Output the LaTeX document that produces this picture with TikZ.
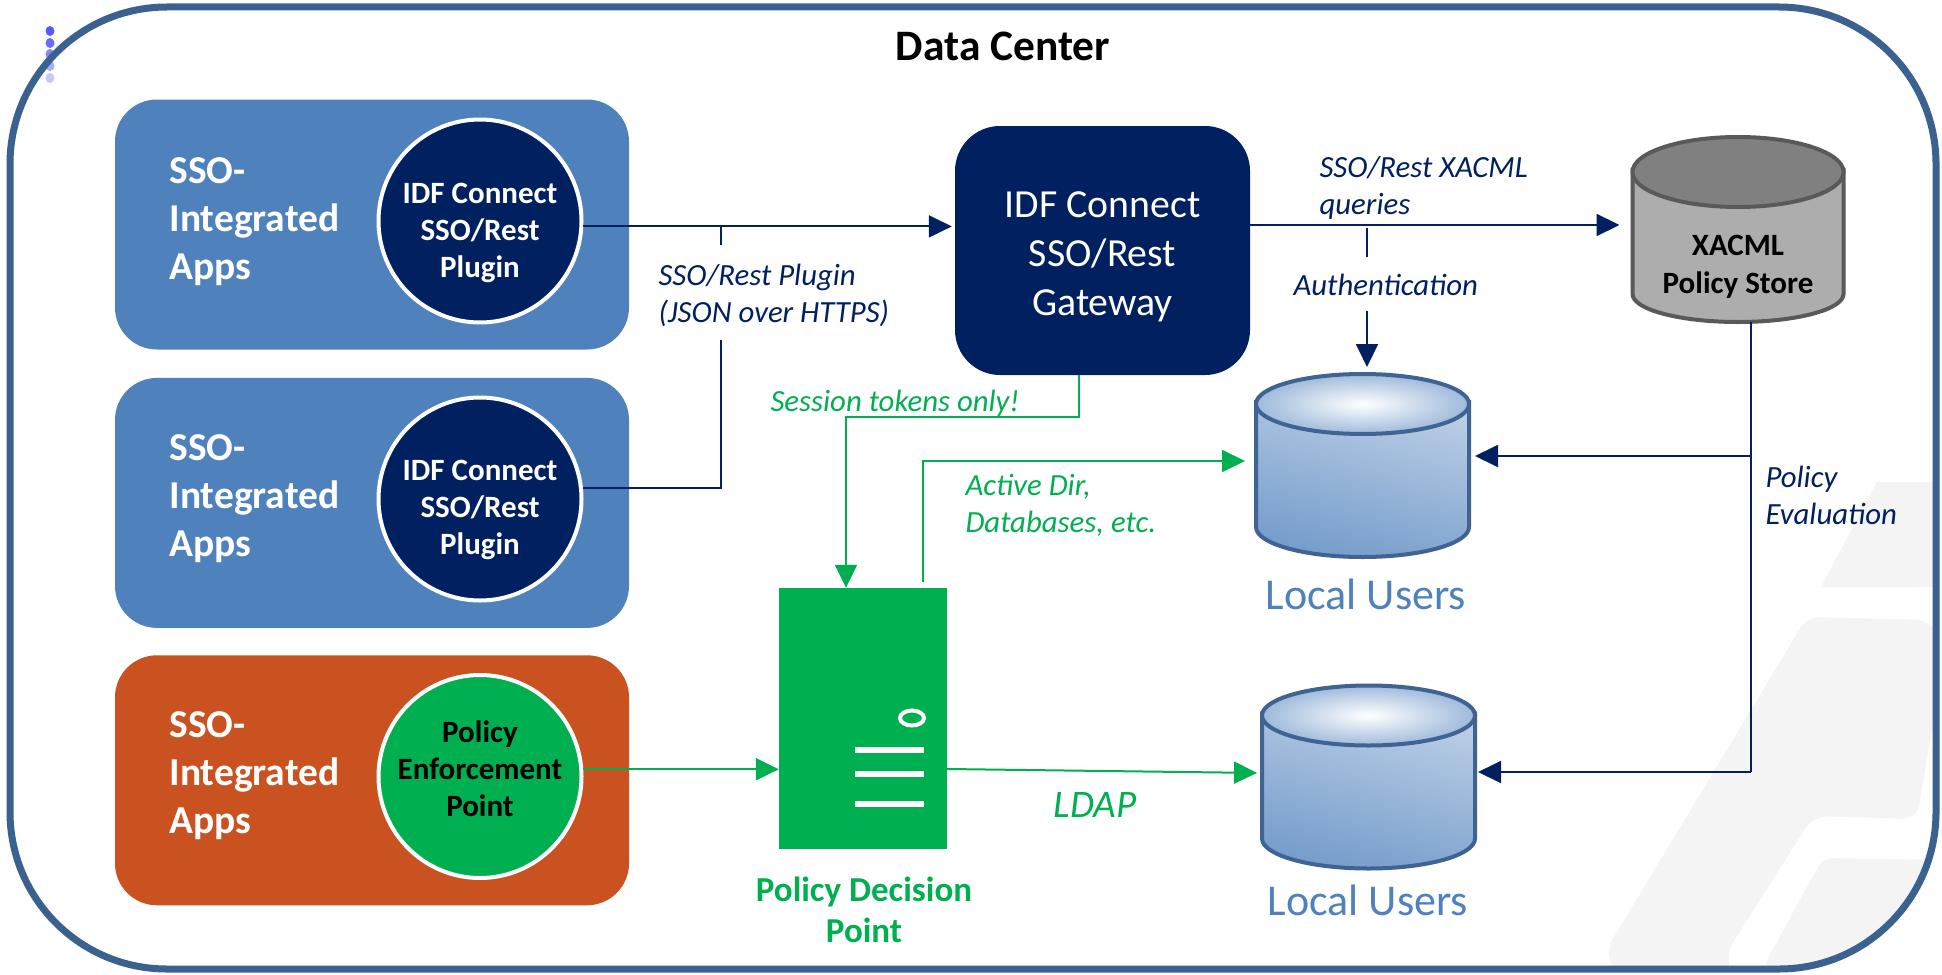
\documentclass[tikz,border=0pt]{standalone}
\usepackage{fontspec}
\setmainfont{Carlito}
\usepackage{xcolor}
\usepackage{tikz}
\usetikzlibrary{shapes.geometric, arrows.meta, positioning, calc}
\definecolor{navy}{HTML}{002060}
\definecolor{appblue}{HTML}{4F81BD}
\definecolor{apporange}{HTML}{CA5220}
\definecolor{pdpgreen}{HTML}{00B050}
\definecolor{framecol}{HTML}{3B6190}
\definecolor{wmark}{HTML}{F4F4F4}
\definecolor{usrline}{HTML}{3F6392}
\tikzstyle{appbox} = [rectangle, rounded corners=42pt, minimum width=514pt, minimum height=250pt, inner sep=0pt]
\tikzstyle{plugin} = [circle, draw=white, line width=4pt, minimum size=203pt, inner sep=0pt]
\tikzstyle{apptext} = [anchor=west, align=left, text=white, font=\fontsize{39.5}{48}\selectfont\bfseries]
\tikzstyle{plugtext} = [align=center, font=\fontsize{31}{37}\selectfont\bfseries]
\tikzstyle{navylabel} = [anchor=west, align=left, text=navy, font=\fontsize{30.8}{37}\selectfont\itshape]
\tikzstyle{greenlabel} = [anchor=west, align=left, text=pdpgreen, font=\fontsize{30.8}{37}\selectfont\itshape]
\tikzstyle{store} = [rectangle, inner sep=0pt, outer sep=0pt]
\tikzstyle{usrbody} = [draw=usrline, line width=4pt, top color=appblue!40!white, bottom color=appblue!78!white, shading angle=-15]
\tikzstyle{usrtop} = [ellipse, draw=usrline, inner color=white, outer color=appblue!55!white, line width=4pt, minimum width=213pt, minimum height=60pt, inner sep=0pt, anchor=north]
\tikzstyle{usertext} = [text=appblue, font=\fontsize{44}{46}\selectfont]
\tikzstyle{navyline} = [draw=navy, line width=2pt]
\tikzstyle{navyarrow} = [navyline, -{Triangle[length=23pt,width=22pt]}]
\tikzstyle{greenline} = [draw=pdpgreen, line width=2pt]
\tikzstyle{greenarrow} = [greenline, -{Triangle[length=23pt,width=22pt]}]
\begin{document}
\begin{tikzpicture}[x=1pt, y=-1pt]
	\useasboundingbox (0,0) rectangle (1942,974);
	\fill[white] (0,0) rectangle (1942,974);

	% background marks
	\begin{scope}
		\clip[rounded corners=157pt] (10,7) rectangle (1936,969);
		\fill[wmark] (1877,482) -- (1942,482) -- (1942,587) -- (1821,587) -- cycle;
		\fill[wmark, rounded corners=14pt] (1807,617) -- (1930,620) -- (1945,650) -- (1917,819) -- (1813,816) -- (1725,955) -- (1735,980) -- (1620,980) -- (1605,952) -- cycle;
		\fill[wmark, rounded corners=10pt] (1823,858) -- (1950,860) -- (1950,985) -- (1760,985) -- (1767,960) -- cycle;
	\end{scope}

	% dots
	\foreach \ypos/\shade in {31/65, 43/58, 54/48, 66/33, 78/22} {
		\fill[blue!\shade!white] (50,\ypos) ellipse (4.5pt and 5pt);
	}

	\node (frame) [rectangle, draw=framecol, line width=7pt, rounded corners=157pt, minimum width=1926pt, minimum height=962pt, inner sep=0pt] at (973,488) {};
	\node (title) [font=\fontsize{43.5}{46}\selectfont\bfseries] at (1003,46) {Data Center};

	% apps
	\node (box1) [appbox, fill=appblue] at (372,224.5) {};
	\node (box2) [appbox, below=28pt of box1, fill=appblue] {};
	\node (box3) [appbox, below=27pt of box2, fill=apporange] {};
	\node (app1) [apptext] at (166,222) {SSO-\\Integrated\\Apps};
	\node (app2) [apptext] at (166,499) {SSO-\\Integrated\\Apps};
	\node (app3) [apptext] at (166,776) {SSO-\\Integrated\\Apps};

	\node (plug1) [plugin, fill=navy] at (480,221) {};
	\node (plug2) [plugin, fill=navy] at (480,499) {};
	\node (pep) [plugin, fill=pdpgreen] at (480,776.5) {};
	\node (plugtxt1) [plugtext, text=white] at (480,233) {IDF Connect\\SSO/Rest\\Plugin};
	\node (plugtxt2) [plugtext, text=white] at (480,510) {IDF Connect\\SSO/Rest\\Plugin};
	\node (peptxt) [plugtext, text=black] at (480,769) {Policy\\Enforcement\\Point};

	% gateway and stores
	\node (gate) [rectangle, rounded corners=45pt, fill=navy, minimum width=295pt, minimum height=249pt] at (1102.5,250.5) {};
	\node (gatetxt) [align=center, text=white, font=\fontsize{39.8}{49}\selectfont] at (1102.5,257) {IDF Connect\\SSO/Rest\\Gateway};
	\node (xacml) [store, minimum width=211pt, minimum height=187pt] at (1738,228.5) {};
	\draw[draw=black!65, fill=black!32, line width=4pt] ($(xacml.north west)+(0,35)$) -- ($(xacml.south west)+(0,-28)$) arc[start angle=180, end angle=360, x radius=105.5pt, y radius=28pt] -- ($(xacml.north east)+(0,35)$) -- cycle;
	\node (xacmltop) [ellipse, draw=black!65, fill=black!50, line width=4pt, minimum width=211pt, minimum height=70pt, inner sep=0pt, anchor=north] at (xacml.north) {};
	\node (xacmltxt) [align=center, font=\fontsize{31}{38}\selectfont\bfseries] at (1738,267) {XACML\\Policy Store};

	\node (usr1) [store, minimum width=213pt, minimum height=185pt] at (1362.5,464.5) {};
	\node (usr2) [store, minimum width=213pt, minimum height=185pt] at (1368.5,776) {};
	\foreach \usr in {usr1, usr2} {
		\path[usrbody] ($(\usr.north west)+(0,30)$) -- ($(\usr.south west)+(0,-30)$) arc[start angle=180, end angle=360, x radius=106.5pt, y radius=30pt] -- ($(\usr.north east)+(0,30)$) -- cycle;
		\node (\usr top) [usrtop] at (\usr.north) {};
	}
	\node (usrtxt1) [usertext] at (1366,594) {Local Users};
	\node (usrtxt2) [usertext] at (1368,900) {Local Users};

	% policy decision point
	\node (pdp) [rectangle, fill=pdpgreen, minimum width=168pt, minimum height=261pt, inner sep=0pt] at (863,718.5) {};
	\node (led) [ellipse, draw=white, line width=4pt, minimum width=24pt, minimum height=15pt, inner sep=0pt] at (912,718) {};
	\foreach \ypos in {750,774,804} {
		\fill[white] (855,\ypos-3) rectangle (924,\ypos+3);
	}
	\node (pdptxt) [align=center, text=pdpgreen, font=\fontsize{35}{41}\selectfont\bfseries] at (864,910) {Policy Decision\\Point};

	% labels
	\node (plugnote) [navylabel] at (655,295) {SSO/Rest Plugin\\(JSON over HTTPS)};
	\node (querynote) [navylabel] at (1316,188) {SSO/Rest XACML\\queries};
	\node (authnote) [navylabel] at (1290,285) {Authentication};
	\node (evalnote) [navylabel] at (1762,495) {Policy\\Evaluation};
	\node (tokennote) [greenlabel] at (767,403) {Session tokens only!};
	\node (dirnote) [greenlabel] at (962,505) {Active Dir,\\Databases, etc.};
	\node (ldapnote) [text=pdpgreen, font=\fontsize{39}{40}\selectfont\itshape] at (1095,805) {LDAP};

	% navy links
	\coordinate (gapin) at (721,245);
	\coordinate (gapout) at (721,340);
	\draw[navyarrow, shorten >=3pt] (plug1.-3) -- (plug1.-3 -| gate.west);
	\draw[navyline] (gapin |- plug1.-3) -- (gapin);
	\draw[navyline] (plug2.6) -| (gapout);
	\draw[navyarrow, shorten >=13pt] (gate.east |- 0,225) -- (xacml.west |- 0,225);
	\coordinate (authin) at (1367,228);
	\coordinate (authmid) at (1367,257);
	\coordinate (authout) at (1367,311);
	\draw[navyline] (authin) -- (authmid);
	\draw[navyarrow, shorten >=5pt] (authout) -- (authout |- usr1.north);
	\coordinate (evaldown) at (1751,772);
	\draw[navyline] (evaldown |- xacml.south) -- (evaldown);
	\draw[navyarrow, shorten >=6pt] (evaldown |- 0,456) -- (usr1.east |- 0,456);
	\draw[navyarrow, shorten >=3pt] (evaldown) -- (usr2.east |- evaldown);

	% green links
	\coordinate (tokenbend) at (1079,417);
	\draw[greenarrow] (tokenbend |- gate.south) -- (tokenbend) -| (pdp.north -| 846,0);
	\draw[greenarrow, shorten >=11pt] (923,582) |- (usr1.west |- 0,461);
	\draw[greenarrow] (pep.4) -- (pdp.west |- pep.4);
	\draw[greenarrow, shorten >=5pt] (pdp.east |- 0,769) -- (usr2.west |- 0,773);
\end{tikzpicture}
\end{document}
